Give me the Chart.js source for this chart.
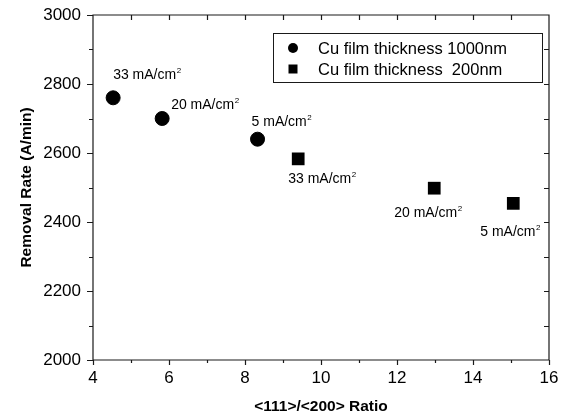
<!DOCTYPE html>
<html>
<head>
<meta charset="utf-8">
<script src="https://cdn.jsdelivr.net/npm/chart.js@4.4.1/dist/chart.umd.min.js"></script>
<style>
  html, body { margin: 0; padding: 0; background: #fff; }
  #wrap { width: 565px; height: 418px; }
</style>
</head>
<body>
<div id="wrap"><canvas id="rateChart" width="565" height="418"></canvas></div>
<script>
// <111>/<200> ratio vs removal rate, two film thicknesses
const ratio1000 = [4.53, 5.82, 8.33];
const rate1000 = [2760, 2700, 2640];
const ratio200 = [9.40, 12.98, 15.06];
const rate200 = [2583, 2498, 2454];
const current1000 = ["33", "20", "5"];
const current200 = ["33", "20", "5"];
const seriesNames = ["Cu film thickness 1000nm", "Cu film thickness  200nm"];
const xTicks = [4, 6, 8, 10, 12, 14, 16];
const yTicks = [2000, 2200, 2400, 2600, 2800, 3000];

const FONT = "'Liberation Sans', Arial, sans-serif";
Chart.defaults.font.family = FONT;
Chart.defaults.color = "#000";

function toPoints(xs, ys) {
  return xs.map((x, i) => ({ x: x, y: ys[i] }));
}

// where each current-density note sits relative to its marker (px)
const noteOffsets = [
  [[0, -19], [9, -10], [-6, -13]],
  [[-10, 24], [-40, 29], [-33, 33]],
];

const axisFrame = {
  id: "axisFrame",
  afterDraw(chart) {
    const { ctx, chartArea: a, scales } = chart;
    const xs = scales.x, ys = scales.y;
    ctx.save();
    ctx.strokeStyle = "#1a1a1a";
    ctx.lineWidth = 1.2;
    ctx.beginPath();
    ctx.rect(a.left, a.top, a.right - a.left, a.bottom - a.top);
    ctx.stroke();
    ctx.beginPath();
    // bottom: every unit outward, major longer; top: every unit inward
    for (let v = 4; v <= 16; v++) {
      const px = Math.round(xs.getPixelForValue(v)) + 0.5;
      const len = v % 2 === 0 ? 5 : 3;
      ctx.moveTo(px, a.bottom);
      ctx.lineTo(px, a.bottom + len);
      if (v > 4 && v < 16) {
        ctx.moveTo(px, a.top);
        ctx.lineTo(px, a.top + 5);
      }
    }
    // left: every 100 outward, right: every 100 inward
    for (let v = 2000; v <= 3000; v += 100) {
      const py = Math.round(ys.getPixelForValue(v)) + 0.5;
      const len = v % 200 === 0 ? 6 : 4;
      ctx.moveTo(a.left, py);
      ctx.lineTo(a.left - len, py);
      if (v > 2000 && v < 3000) {
        ctx.moveTo(a.right, py);
        ctx.lineTo(a.right - 5, py);
      }
    }
    ctx.stroke();

    // current density notes
    const notes = [current1000, current200];
    ctx.fillStyle = "#000";
    ctx.textBaseline = "alphabetic";
    ctx.textAlign = "left";
    notes.forEach((list, d) => {
      const meta = chart.getDatasetMeta(d);
      list.forEach((c, i) => {
        const pt = meta.data[i];
        const [dx, dy] = noteOffsets[d][i];
        const tx = pt.x + dx, ty = pt.y + dy;
        ctx.font = "14px " + FONT;
        const main = c + " mA/cm";
        ctx.fillText(main, tx, ty);
        const w = ctx.measureText(main).width;
        ctx.font = "8px " + FONT;
        ctx.fillText("2", tx + w + 0.5, ty - 6);
      });
    });

    // legend box
    const bx = 273, by = 33, bw = 269, bh = 49;
    ctx.lineWidth = 1;
    ctx.strokeStyle = "#1a1a1a";
    ctx.strokeRect(bx + 0.5, by + 0.5, bw, bh);
    ctx.font = "16.5px " + FONT;
    ctx.textBaseline = "middle";
    chart.data.datasets.forEach((ds, d) => {
      const cy = by + 15 + d * 21;
      ctx.fillStyle = "#000";
      ctx.beginPath();
      if (ds.pointStyle === "circle") {
        ctx.arc(bx + 20, cy, 5, 0, Math.PI * 2);
      } else {
        ctx.rect(bx + 15.5, cy - 4.5, 9, 9);
      }
      ctx.fill();
      ctx.fillText(ds.label, bx + 45, cy + 1);
    });
    ctx.restore();
  },
};

new Chart(document.getElementById("rateChart"), {
  type: "scatter",
  data: {
    datasets: [
      {
        label: seriesNames[0],
        data: toPoints(ratio1000, rate1000),
        pointStyle: "circle",
        pointRadius: 7,
        backgroundColor: "#000",
        borderColor: "#000",
        borderWidth: 1,
      },
      {
        label: seriesNames[1],
        data: toPoints(ratio200, rate200),
        pointStyle: "rect",
        pointRadius: 9,
        backgroundColor: "#000",
        borderColor: "#000",
        borderWidth: 0,
      },
    ],
  },
  options: {
    responsive: false,
    animation: false,
    events: [],
    layout: { padding: { top: 15, right: 16, left: 0, bottom: 0 } },
    plugins: { legend: { display: false }, tooltip: { enabled: false } },
    scales: {
      x: {
        type: "linear",
        min: 4,
        max: 16,
        afterBuildTicks: (s) => { s.ticks = xTicks.map((v) => ({ value: v })); },
        afterFit: (s) => { s.height = 58; s.paddingLeft = 0; s.paddingRight = 0; },
        grid: { display: false, drawTicks: false },
        border: { display: false },
        ticks: { font: { size: 17 }, color: "#000", padding: 8, maxRotation: 0, callback: (v) => String(v) },
        title: {
          display: true,
          text: "<111>/<200> Ratio",
          font: { size: 15.5, weight: "bold" },
          color: "#000",
          padding: { top: 0, bottom: 2 },
        },
      },
      y: {
        type: "linear",
        min: 2000,
        max: 3000,
        afterBuildTicks: (s) => { s.ticks = yTicks.map((v) => ({ value: v })); },
        afterFit: (s) => { s.width = 93; s.paddingTop = 0; s.paddingBottom = 0; },
        grid: { display: false, drawTicks: false },
        border: { display: false },
        ticks: { font: { size: 17 }, color: "#000", padding: 12, callback: (v) => String(v) },
        title: {
          display: true,
          text: "Removal Rate (A/min)",
          font: { size: 15.5, weight: "bold" },
          color: "#000",
          padding: { top: 17, bottom: 0 },
        },
      },
    },
  },
  plugins: [axisFrame],
});
</script>
</body>
</html>
